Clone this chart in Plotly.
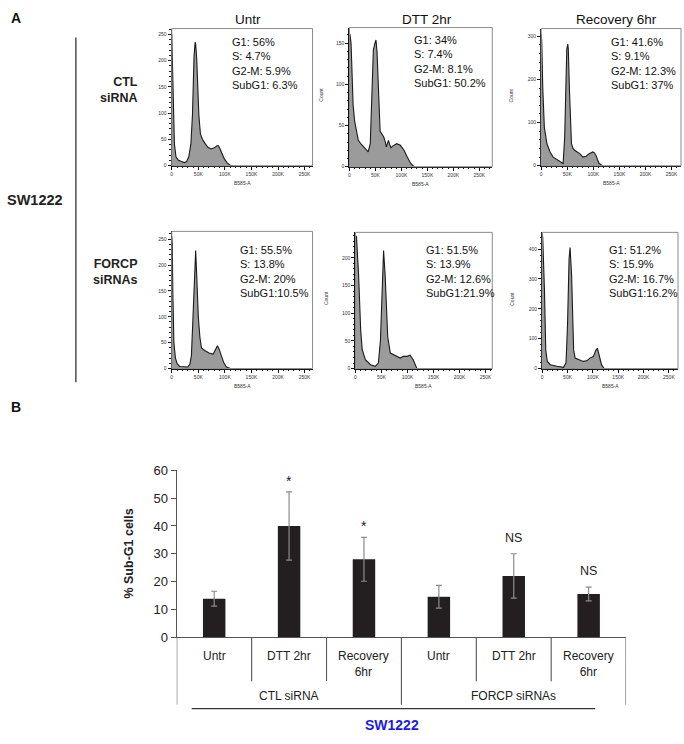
import plotly.graph_objects as go

W, H = 684, 744
def X(px): return px / W
def Y(py): return 1 - py / H

FONT = "Liberation Sans, Arial, sans-serif"

# ---------------- data ----------------
cell_line = "SW1222"
conditions = ["Untr", "DTT 2hr", "Recovery 6hr"]
sirna_groups = ["CTL siRNA", "FORCP siRNAs"]
x_tick_vals = [0, 50, 100, 150, 200, 250]
x_tick_text = ["0", "50K", "100K", "150K", "200K", "250K"]
x_axis_label = "B585-A"
y_axis_label = "Count"

# DNA content histograms (x in thousands, y counts)
ctl_untr_x = [0, 1, 3, 5, 8, 12, 18, 24, 28, 32, 36, 39, 42, 44, 45, 47, 49, 51, 54, 58, 63, 68, 74, 80, 85, 88, 91, 95, 99, 104, 110, 116]
ctl_untr_y = [250, 200, 116, 41, 17, 11, 8, 6, 8, 17, 41, 97, 209, 235, 232, 203, 140, 97, 60, 50, 42, 35, 32, 34, 38, 38, 32, 22, 13, 6, 1, 0]

ctl_dtt_x = [0, 1, 3, 5, 7, 10, 14, 17, 23, 30, 36, 40, 43, 46, 49, 51, 53, 55, 57, 59, 63, 66, 69, 71, 73, 75, 78, 80, 83, 87, 91, 98, 105, 111, 118, 124]
ctl_dtt_y = [162, 160, 150, 110, 75, 55, 40, 32, 27, 22, 18, 28, 75, 142, 150, 154, 140, 115, 75, 43, 38, 36, 30, 24, 28, 32, 26, 23, 25, 27, 28, 26, 20, 12, 4, 0]

ctl_rec_x = [0, 1, 3, 6, 11, 17, 23, 33, 39, 42, 45, 47, 49, 51, 52, 54, 56, 58, 61, 64, 69, 74, 80, 86, 92, 96, 99, 102, 105, 108, 111, 118]
ctl_rec_y = [305, 290, 180, 89, 51, 32, 20, 13, 7, 5, 66, 200, 270, 282, 270, 180, 90, 51, 40, 36, 32, 28, 20, 22, 28, 30, 32, 30, 24, 14, 5, 0]

forcp_untr_x = [0, 1, 2, 4, 7, 10, 15, 22, 30, 34, 37, 40, 43, 45, 47, 50, 53, 56, 62, 70, 78, 83, 86, 89, 93, 98, 103, 110]
forcp_untr_y = [256, 240, 150, 50, 20, 10, 4, 3, 3, 8, 25, 100, 200, 228, 180, 100, 60, 40, 35, 30, 28, 40, 44, 38, 26, 11, 3, 0]

forcp_dtt_x = [0, 2, 3, 6, 10, 13, 19, 29, 38, 44, 48, 51, 54, 57, 62, 67, 73, 80, 86, 92, 99, 105, 111, 118]
forcp_dtt_y = [240, 238, 220, 169, 69, 34, 16, 7, 4, 10, 51, 140, 213, 169, 57, 28, 25, 22, 19, 22, 22, 24, 16, 0]

forcp_rec_x = [0, 1, 4.5, 7, 10, 16, 29, 42, 47, 50, 53, 55, 58, 62, 65, 75, 81, 88, 94, 101, 106, 109, 112, 117, 122]
forcp_rec_y = [454, 440, 258, 62, 24, 13, 8, 4, 19, 149, 367, 405, 313, 62, 35, 29, 24, 26, 35, 40, 62, 68, 46, 13, 0]

stats = [
    ["G1: 56%", "S: 4.7%", "G2-M: 5.9%", "SubG1: 6.3%"],
    ["G1: 34%", "S: 7.4%", "G2-M: 8.1%", "SubG1: 50.2%"],
    ["G1: 41.6%", "S: 9.1%", "G2-M: 12.3%", "SubG1: 37%"],
    ["G1: 55.5%", "S: 13.8%", "G2-M: 20%", "SubG1:10.5%"],
    ["G1: 51.5%", "S: 13.9%", "G2-M: 12.6%", "SubG1:21.9%"],
    ["G1: 51.2%", "S: 15.9%", "G2-M: 16.7%", "SubG1:16.2%"],
]

# Sub-G1 bar chart
bar_labels = ["Untr", "DTT 2hr", "Recovery<br>6hr", "Untr", "DTT 2hr", "Recovery<br>6hr"]
subg1_mean = [13.8, 40.0, 28.0, 14.5, 22.0, 15.5]
subg1_err = [2.7, 12.3, 7.9, 4.1, 8.0, 2.5]
significance = ["", "*", "*", "", "NS", "NS"]
bar_y_ticks = [0, 10, 20, 30, 40, 50, 60]

hist_x = [ctl_untr_x, ctl_dtt_x, ctl_rec_x, forcp_untr_x, forcp_dtt_x, forcp_rec_x]
hist_y = [ctl_untr_y, ctl_dtt_y, ctl_rec_y, forcp_untr_y, forcp_dtt_y, forcp_rec_y]

# ---------------- layout geometry (pixels) ----------------
# left, right, top, bottom, xmax, ymax, ydtick, yminor
panels = [
    (171, 312, 22, 162, 265, 261, 50, 10),
    (349, 492, 21, 163, 275, 169, 50, 10),
    (541, 681, 22, 162, 268, 318, 100, 20),
    (171, 312, 229, 369, 265, 265, 50, 10),
    (355, 492, 230, 369, 263, 246, 50, 10),
    (542, 678, 230, 369, 268, 456, 100, 20),
]
stat_pos = [(229, 28), (412, 26), (609, 28), (237, 240), (424, 240), (607, 240)]
count_label = [None, 321, 511, None, 325, 511]

fig = go.Figure()
layout = dict(width=W, height=H, margin=dict(l=0, r=0, t=0, b=0),
              paper_bgcolor="white", plot_bgcolor="white", showlegend=False,
              font=dict(family=FONT, color="#222"))
annotations = []
shapes = []

for i, (l, r, t, b, xmax, ymax, ydt, ymin) in enumerate(panels):
    n = i + 1
    xa = "x" if n == 1 else f"x{n}"
    ya = "y" if n == 1 else f"y{n}"
    fig.add_trace(go.Scatter(x=hist_x[i], y=hist_y[i], xaxis=xa, yaxis=ya, mode="lines",
                             fill="tozeroy", fillcolor="#9b9b9b",
                             line=dict(color="#1a1a1a", width=1.1), hoverinfo="skip"))
    layout[f"xaxis{'' if n == 1 else n}"] = dict(
        domain=[X(l), X(r)], anchor=ya, range=[0, xmax], showgrid=False, zeroline=False,
        showline=True, linecolor="#111", linewidth=1.3, ticks="outside", ticklen=3,
        tickwidth=1, tickcolor="#111", tickvals=x_tick_vals, ticktext=x_tick_text,
        tickfont=dict(size=5, color="#333"),
        minor=dict(ticks="outside", ticklen=1.5, dtick=10, tickcolor="#111"))
    layout[f"yaxis{'' if n == 1 else n}"] = dict(
        domain=[Y(b), Y(t)], anchor=xa, range=[0, ymax], showgrid=False, zeroline=False,
        showline=True, linecolor="#111", linewidth=1.3, ticks="outside", ticklen=3,
        tickwidth=1, tickcolor="#111", dtick=ydt, tick0=0,
        tickfont=dict(size=5, color="#333"),
        minor=dict(ticks="outside", ticklen=1.5, dtick=ymin, tickcolor="#111"))
    shapes.append(dict(type="rect", xref="paper", yref="paper", x0=X(l), x1=X(r),
                       y0=Y(b), y1=Y(t), line=dict(color="#8a8a8a", width=1)))
    sx, sy = stat_pos[i]
    annotations.append(dict(text="<br>".join(stats[i]), xref="paper", yref="paper",
                            x=X(sx), y=Y(sy), xanchor="left", yanchor="top", align="left",
                            showarrow=False, font=dict(size=11, color="#111")))
    annotations.append(dict(text=x_axis_label, xref="paper", yref="paper",
                            x=X((l + r) / 2), y=Y(b + 18), xanchor="center", yanchor="middle",
                            showarrow=False, font=dict(size=5, color="#333")))
    if count_label[i] is not None:
        annotations.append(dict(text=y_axis_label, xref="paper", yref="paper",
                                x=X(count_label[i]), y=Y((t + b) / 2 - 2), textangle=-90,
                                xanchor="center", yanchor="middle", showarrow=False,
                                font=dict(size=5, color="#333")))

# column titles
for cx, txt in zip([247, 427, 616], conditions):
    annotations.append(dict(text=txt, xref="paper", yref="paper", x=X(cx), y=Y(13),
                            xanchor="center", yanchor="middle", showarrow=False,
                            font=dict(size=13.5, color="#111")))

# left labels
annotations += [
    dict(text="<b>A</b>", xref="paper", yref="paper", x=X(8), y=Y(11), xanchor="left",
         yanchor="middle", showarrow=False, font=dict(size=14, color="#111")),
    dict(text="<b>CTL<br>siRNA</b>", xref="paper", yref="paper", x=X(139), y=Y(85),
         xanchor="right", yanchor="middle", align="right", showarrow=False,
         font=dict(size=12.5, color="#222")),
    dict(text="<b>FORCP<br>siRNAs</b>", xref="paper", yref="paper", x=X(139), y=Y(270),
         xanchor="right", yanchor="middle", align="right", showarrow=False,
         font=dict(size=12.5, color="#222")),
    dict(text=f"<b>{cell_line}</b>", xref="paper", yref="paper", x=X(4), y=Y(197),
         xanchor="left", yanchor="middle", showarrow=False, font=dict(size=14.5, color="#222")),
    dict(text="<b>B</b>", xref="paper", yref="paper", x=X(8), y=Y(408), xanchor="left",
         yanchor="middle", showarrow=False, font=dict(size=14, color="#111")),
]
shapes.append(dict(type="line", xref="paper", yref="paper", x0=X(75), x1=X(75),
                   y0=Y(31), y1=Y(383), line=dict(color="#333", width=1.3)))

# ---------------- bar chart ----------------
bx = list(range(len(subg1_mean)))
fig.add_trace(go.Bar(x=bx, y=subg1_mean, xaxis="x7", yaxis="y7", width=0.3,
                     marker=dict(color="#231f20", line=dict(width=0)),
                     error_y=dict(type="data", array=subg1_err, visible=True,
                                  color="#8c8c8c", thickness=1.2, width=3),
                     hoverinfo="skip"))
layout["xaxis7"] = dict(domain=[X(176), X(626)], anchor="y7", range=[-0.5, 5.5],
                        showgrid=False, zeroline=False, showline=True, linecolor="#555",
                        linewidth=1.2, showticklabels=False, ticks="")
layout["yaxis7"] = dict(domain=[Y(643), Y(473)], anchor="x7", range=[0, 60],
                        showgrid=False, zeroline=False, showline=True, linecolor="#555",
                        linewidth=1.2, ticks="outside", ticklen=5, tickcolor="#555",
                        tickvals=bar_y_ticks, tickfont=dict(size=13, color="#222"))

for i, lab in enumerate(bar_labels):
    annotations.append(dict(text=lab, xref="x7", yref="paper", x=i, y=Y(653),
                            xanchor="center", yanchor="top", showarrow=False,
                            font=dict(size=12, color="#222")))
    if significance[i]:
        star = significance[i] == "*"
        annotations.append(dict(text=significance[i], xref="x7", yref="y7", x=i,
                                y=subg1_mean[i] + subg1_err[i], xanchor="center",
                                yanchor="bottom", yshift=1 if star else 7, showarrow=False,
                                font=dict(size=14 if star else 12.5, color="#222")))

for g, name in enumerate(sirna_groups):
    annotations.append(dict(text=name, xref="x7", yref="paper", x=3 * g + 1, y=Y(703),
                            xanchor="center", yanchor="middle", showarrow=False,
                            font=dict(size=12, color="#222")))

for k in range(7):
    xpos = k - 0.5
    end = 712 if k % 3 == 0 else 688
    shapes.append(dict(type="line", xref="x7", yref="paper", x0=xpos, x1=xpos,
                       y0=Y(643), y1=Y(end), line=dict(color="#555", width=1.1)))
shapes.append(dict(type="line", xref="paper", yref="paper", x0=X(191), x1=X(595),
                   y0=Y(716), y1=Y(716), line=dict(color="#333", width=1.3)))

annotations.append(dict(text="<b>% Sub-G1 cells</b>", xref="paper", yref="paper",
                        x=X(128), y=Y(558), textangle=-90, xanchor="center",
                        yanchor="middle", showarrow=False, font=dict(size=12.5, color="#222")))
annotations.append(dict(text=f"<b>{cell_line}</b>", xref="paper", yref="paper",
                        x=X(392), y=Y(733), xanchor="center", yanchor="middle",
                        showarrow=False, font=dict(size=14, color="#1a1ae6")))

layout["annotations"] = annotations
layout["shapes"] = shapes
fig.update_layout(**layout)
fig.write_html("out.html", config={"displayModeBar": False},
               post_script="document.body.style.margin='0';"
               "document.body.style.overflow='hidden';")
